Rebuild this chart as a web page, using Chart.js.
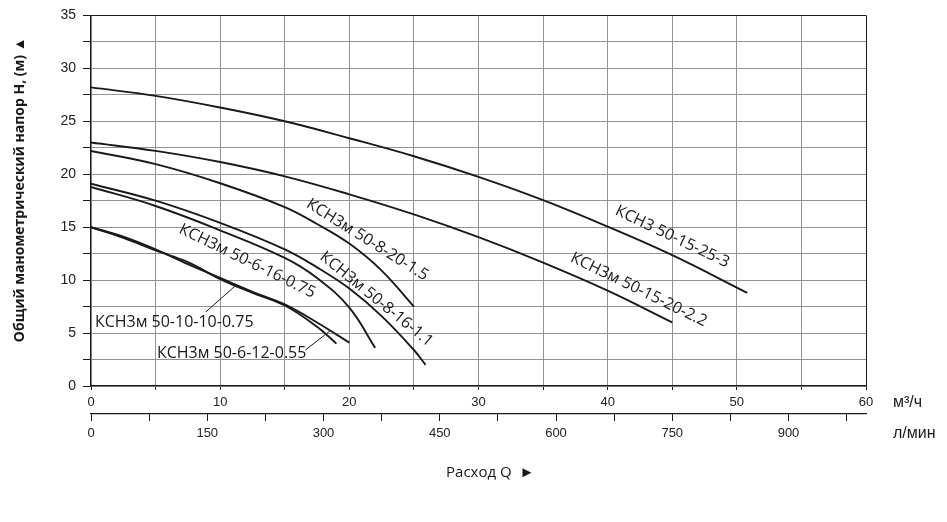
<!DOCTYPE html>
<html>
<head>
<meta charset="utf-8">
<script src="https://cdn.jsdelivr.net/npm/chart.js@4.4.1/dist/chart.umd.min.js"></script>
<style>
    html, body { margin: 0; padding: 0; background: #fff; }
    #wrap { width: 947px; height: 522px; }
</style>
</head>
<body>
<div id="wrap"><canvas id="pumpChart" width="947" height="522"></canvas></div>
<script>
// pump names, in the order the curves are listed below
const pumpNames = [
    "КСН3 50-15-25-3",
    "КСН3м 50-15-20-2.2",
    "КСН3м 50-8-20-1.5",
    "КСН3м 50-8-16-1.1",
    "КСН3м 50-6-16-0.75",
    "КСН3м 50-10-10-0.75",
    "КСН3м 50-6-12-0.55",
];

// flow Q (m3/h) and head H (m)
const q_15_25_3 = [0, 5, 10, 15, 20, 25, 30, 35, 40, 45, 50.8];
const h_15_25_3 = [28.2, 27.4, 26.3, 25.0, 23.4, 21.7, 19.75, 17.55, 15.05, 12.35, 8.8];

const q_15_20_22 = [0, 5, 10, 15, 20, 25, 30, 35, 40, 45];
const h_15_20_22 = [23.0, 22.2, 21.15, 19.8, 18.1, 16.2, 14.05, 11.65, 9.0, 6.0];

const q_8_20_15 = [0, 5, 10, 15, 17.5, 20, 22.5, 25];
const h_8_20_15 = [22.2, 20.95, 19.15, 16.9, 15.3, 13.45, 10.9, 7.5];

const q_8_16_11 = [0, 5, 10, 15, 17.5, 20, 22.5, 25, 25.9];
const h_8_16_11 = [19.1, 17.5, 15.4, 12.9, 11.2, 9.2, 6.6, 3.4, 2.0];

const q_6_16_075 = [0, 5, 10, 15, 17.5, 20, 22];
const h_6_16_075 = [18.8, 17.0, 14.7, 12.1, 10.2, 7.4, 3.6];

const q_10_10_075 = [0, 2.5, 5, 7.5, 10, 12.5, 15, 17.5, 20];
const h_10_10_075 = [15.0, 14.1, 12.9, 11.5, 10.2, 8.9, 7.7, 6.0, 4.1];

const q_6_12_055 = [0, 2.5, 5, 7.5, 10, 12.5, 15, 17.5, 19];
const h_6_12_055 = [15.0, 14.0, 12.8, 11.7, 10.1, 8.8, 7.6, 5.6, 4.0];

// axis ticks and labels
const m3hTicks = [0, 5, 10, 15, 20, 25, 30, 35, 40, 45, 50, 55, 60];
const m3hLabels = [0, 10, 20, 30, 40, 50, 60];
const lpmTicks = [0, 75, 150, 225, 300, 375, 450, 525, 600, 675, 750, 825, 900, 975];
const lpmLabels = [0, 150, 300, 450, 600, 750, 900];
const headTicks = [0, 2.5, 5, 7.5, 10, 12.5, 15, 17.5, 20, 22.5, 25, 27.5, 30, 32.5, 35];
const headLabels = [0, 5, 10, 15, 20, 25, 30, 35];

const curveQ = [q_15_25_3, q_15_20_22, q_8_20_15, q_8_16_11, q_6_16_075, q_10_10_075, q_6_12_055];
const curveH = [h_15_25_3, h_15_20_22, h_8_20_15, h_8_16_11, h_6_16_075, h_10_10_075, h_6_12_055];

// where the curve names sit (data units) and how they are turned
const curveLabels = [
    { idx: 0, q: 45.0, h: 14.1, angle: 25.5, align: "center" },
    { idx: 1, q: 42.4, h: 9.1, angle: 26, align: "center" },
    { idx: 2, q: 21.4, h: 13.8, angle: 32, align: "center" },
    { idx: 3, q: 22.1, h: 8.2, angle: 39, align: "center" },
    { idx: 4, q: 12.1, h: 11.8, angle: 26, align: "center" },
    { idx: 5, q: 0.3, h: 6.0, angle: 0, align: "left" },
    { idx: 6, q: 5.1, h: 3.1, angle: 0, align: "left" },
];
const leaderLines = [
    { from: [8.9, 7.0], to: [11.3, 9.6] },
    { from: [16.6, 3.4], to: [18.5, 5.2] },
];

const datasets = curveQ.map((qs, i) => ({
    label: pumpNames[i],
    data: qs.map((q, j) => ({ x: q, y: curveH[i][j] })),
    borderColor: "#1a1a1a",
    borderWidth: 1.9,
    showLine: true,
    fill: false,
    pointRadius: 0,
    pointHoverRadius: 0,
    tension: 0.4,
}));

const curveLabelPlugin = {
    id: "curveLabels",
    afterDatasetsDraw(chart) {
        const ctx = chart.ctx;
        const sx = chart.scales.x;
        const sy = chart.scales.y;
        const sx2 = chart.scales.x2;

        ctx.save();
        ctx.fillStyle = "#1a1a1a";
        ctx.strokeStyle = "#1a1a1a";
        ctx.font = '16px "Open Sans", sans-serif';
        curveLabels.forEach((lbl) => {
            ctx.save();
            ctx.translate(sx.getPixelForValue(lbl.q), sy.getPixelForValue(lbl.h));
            ctx.rotate((lbl.angle * Math.PI) / 180);
            ctx.textAlign = lbl.align;
            ctx.textBaseline = "middle";
            ctx.fillText(pumpNames[lbl.idx], 0, 0);
            ctx.restore();
        });

        ctx.lineWidth = 1;
        leaderLines.forEach((ln) => {
            ctx.beginPath();
            ctx.moveTo(sx.getPixelForValue(ln.from[0]), sy.getPixelForValue(ln.from[1]));
            ctx.lineTo(sx.getPixelForValue(ln.to[0]), sy.getPixelForValue(ln.to[1]));
            ctx.stroke();
        });

        // units to the right of both flow axes
        ctx.font = '16px "Liberation Sans", Arial, sans-serif';
        ctx.textAlign = "left";
        ctx.textBaseline = "middle";
        ctx.fillText("м³/ч", chart.chartArea.right + 27, sx.top + 17);
        ctx.fillText("л/мин", chart.chartArea.right + 27, sx2.top + 20);
        ctx.restore();
    },
};

const frameBlack = "#1a1a1a";
const gridGrey = "#929292";

new Chart(document.getElementById("pumpChart"), {
    type: "scatter",
    data: { datasets },
    options: {
        responsive: false,
        animation: false,
        layout: { padding: { left: 8, right: 81, top: 15, bottom: 30 } },
        plugins: {
            legend: { display: false },
            tooltip: { enabled: false },
        },
        scales: {
            x: {
                type: "linear",
                position: "bottom",
                weight: 0,
                min: 0,
                max: 60,
                afterBuildTicks: (scale) => {
                    scale.ticks = m3hTicks.map((v) => ({ value: v }));
                },
                afterFit: (scale) => {
                    scale.height = 28;
                },
                border: { display: true, color: frameBlack, width: 1.2 },
                grid: {
                    color: (c) => (c.tick && c.tick.value === 60 ? frameBlack : gridGrey),
                    lineWidth: 1,
                    tickLength: 4,
                    tickColor: frameBlack,
                },
                ticks: {
                    autoSkip: false,
                    maxRotation: 0,
                    padding: 5,
                    color: "#222",
                    font: { family: '"Liberation Sans", Arial, sans-serif', size: 13 },
                    callback: (v) => (m3hLabels.includes(v) ? String(v) : ""),
                },
            },
            x2: {
                type: "linear",
                position: "bottom",
                weight: 1,
                min: 0,
                max: 1000,
                afterBuildTicks: (scale) => {
                    scale.ticks = lpmTicks.map((v) => ({ value: v }));
                },
                afterFit: (scale) => {
                    scale.height = 78;
                },
                border: { display: true, color: frameBlack, width: 1.2 },
                grid: {
                    drawOnChartArea: false,
                    tickLength: 7,
                    tickColor: frameBlack,
                },
                ticks: {
                    autoSkip: false,
                    maxRotation: 0,
                    padding: 5,
                    color: "#222",
                    font: { family: '"Liberation Sans", Arial, sans-serif', size: 13 },
                    callback: (v) => (lpmLabels.includes(v) ? String(v) : ""),
                },
                title: {
                    display: true,
                    // leading spaces push the caption a little right of centre, as in the original
                    text: "      Расход Q  ►",
                    color: "#1a1a1a",
                    font: { family: '"Open Sans", sans-serif', size: 15 },
                    padding: { top: 0, bottom: 10 },
                },
            },
            y: {
                type: "linear",
                min: 0,
                max: 35,
                afterBuildTicks: (scale) => {
                    scale.ticks = headTicks.map((v) => ({ value: v }));
                },
                afterFit: (scale) => {
                    scale.width = 83;
                },
                border: { display: true, color: frameBlack, width: 1.2 },
                grid: {
                    color: (c) => (c.tick && c.tick.value === 35 ? frameBlack : gridGrey),
                    lineWidth: 1,
                    tickLength: 8,
                    tickColor: frameBlack,
                },
                ticks: {
                    autoSkip: false,
                    padding: 7,
                    color: "#222",
                    font: { family: '"Liberation Sans", Arial, sans-serif', size: 14 },
                    callback: (v) => (headLabels.includes(v) ? String(v) : ""),
                },
                title: {
                    display: true,
                    text: "      Общий манометрический напор H, (м) ▲",
                    color: "#1a1a1a",
                    font: { family: '"Open Sans", sans-serif', size: 14, weight: "bold" },
                    padding: { top: 4, bottom: 0 },
                },
            },
        },
    },
    plugins: [curveLabelPlugin],
});
</script>
</body>
</html>
